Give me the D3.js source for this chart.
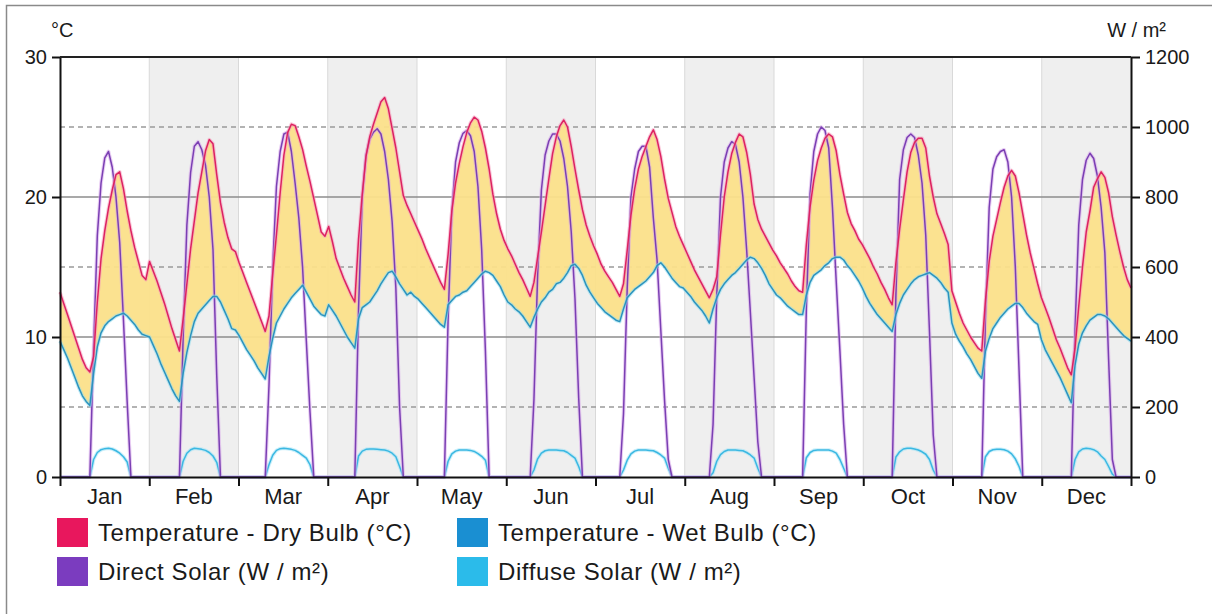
<!DOCTYPE html>
<html>
<head>
<meta charset="utf-8">
<script src="https://cdn.jsdelivr.net/npm/d3@7"></script>
<style>
  html, body { margin: 0; padding: 0; background: #fff; }
  svg { display: block; font-family: "Liberation Sans", Arial, sans-serif; }
</style>
</head>
<body>
<svg id="chart" width="1212" height="614"></svg>
<script>
// Average day per month: 24 hourly values for each month, Jan..Dec
const months = ["Jan", "Feb", "Mar", "Apr", "May", "Jun", "Jul", "Aug", "Sep", "Oct", "Nov", "Dec"];
const tempTicks = [0, 10, 20, 30];
const tempDashed = [5, 15, 25];
const solarTicks = [0, 200, 400, 600, 800, 1000, 1200];

// Temperature - Dry Bulb (°C)
const dryBulb = [
  [13.2,12.4,11.6,10.8,10.0,9.2,8.4,7.8,7.5,8.6,12.5,15.6,17.6,19.2,20.5,21.6,21.8,20.6,19.0,17.6,16.4,15.4,14.4,14.1],
  [15.4,14.7,14.0,13.2,12.4,11.5,10.6,9.8,9.0,11.3,13.8,16.3,18.3,20.3,21.8,23.3,24.1,23.8,21.6,19.6,18.2,17.1,16.3,16.1],
  [15.3,14.6,13.9,13.2,12.5,11.8,11.1,10.4,11.5,14.5,17.3,20.3,23.0,24.6,25.2,25.1,24.3,23.4,22.2,21.1,19.9,18.7,17.5,17.2],
  [17.9,16.8,15.6,14.9,14.2,13.6,13.0,12.5,17.0,20.2,22.9,24.3,25.2,26.0,26.8,27.1,26.3,24.9,23.5,21.8,20.1,19.4,18.8,18.2],
  [17.6,17.0,16.3,15.7,15.1,14.5,13.9,13.4,15.9,19.0,21.0,22.4,23.6,24.6,25.3,25.7,25.5,24.7,23.5,22.0,20.2,18.8,17.7,16.9],
  [16.3,15.8,15.2,14.6,14.1,13.5,12.9,13.9,15.7,17.5,19.4,21.3,23.1,24.3,25.1,25.5,25.0,23.6,22.0,20.5,19.1,18.0,17.2,16.5],
  [15.9,15.2,14.7,14.3,13.9,13.4,12.9,13.8,16.2,18.7,20.6,22.0,22.9,23.6,24.3,24.8,24.1,22.9,21.3,19.9,18.9,17.9,17.2,16.6],
  [16.0,15.4,14.8,14.3,13.8,13.3,12.8,13.4,14.3,17.3,20.0,21.8,23.1,23.9,24.5,24.3,23.2,21.6,19.5,18.4,17.7,17.2,16.7,16.2],
  [15.8,15.3,14.9,14.5,14.0,13.6,13.3,13.2,16.6,19.3,21.2,22.6,23.5,24.2,24.5,24.3,23.3,21.6,20.2,18.9,18.1,17.6,17.0,16.6],
  [16.1,15.6,15.0,14.5,13.9,13.4,12.8,12.3,15.3,17.7,19.8,21.8,23.2,23.9,24.2,24.2,23.5,21.5,20.0,18.8,18.1,17.4,16.6,13.3],
  [12.5,11.7,11.0,10.5,10.0,9.6,9.2,9.0,12.6,15.4,17.2,18.4,19.6,20.7,21.5,21.9,21.5,20.3,18.8,17.3,16.0,14.9,13.8,12.8],
  [12.1,11.4,10.6,9.8,9.2,8.5,7.8,7.3,9.2,12.2,15.0,17.5,19.0,20.7,21.3,21.8,21.4,20.3,18.6,17.3,16.1,15.0,14.1,13.5]
];

// Temperature - Wet Bulb (°C)
const wetBulb = [
  [9.7,9.1,8.5,7.8,7.1,6.4,5.8,5.4,5.1,7.4,9.3,10.3,10.8,11.1,11.3,11.5,11.6,11.7,11.5,11.2,10.9,10.5,10.2,10.1],
  [10.0,9.4,8.8,8.1,7.5,6.9,6.3,5.8,5.4,7.4,8.9,10.1,11.1,11.7,12.0,12.3,12.6,12.9,12.9,12.5,11.9,11.3,10.6,10.5],
  [10.1,9.6,9.1,8.7,8.3,7.8,7.4,7.0,8.6,9.9,11.0,11.5,12.0,12.4,12.8,13.1,13.4,13.7,13.2,12.7,12.2,11.9,11.6,11.5],
  [12.3,11.9,11.5,11.0,10.5,10.0,9.6,9.2,11.3,12.1,12.3,12.5,12.9,13.3,13.8,14.2,14.6,14.7,14.3,13.8,13.4,13.0,13.2,12.9],
  [12.7,12.4,12.1,11.8,11.5,11.2,10.9,10.7,12.3,12.6,12.9,13.0,13.2,13.3,13.6,13.9,14.2,14.5,14.7,14.6,14.4,14.0,13.6,13.0],
  [12.5,12.3,12.0,11.8,11.5,11.1,10.7,11.4,12.0,12.5,12.8,13.2,13.4,13.8,13.9,14.2,14.6,15.1,15.2,14.9,14.4,13.7,13.2,12.8],
  [12.4,12.1,11.8,11.6,11.4,11.2,11.1,12.0,12.8,13.1,13.4,13.6,13.8,14.0,14.3,14.6,15.1,15.3,15.0,14.6,14.2,13.9,13.6,13.5],
  [13.2,12.9,12.5,12.2,11.9,11.5,11.0,12.0,12.8,13.4,13.8,14.1,14.4,14.6,14.9,15.2,15.5,15.7,15.6,15.3,14.9,14.4,13.8,13.4],
  [13.0,12.8,12.5,12.2,12.0,11.8,11.6,11.6,13.0,13.9,14.4,14.6,14.8,15.1,15.3,15.6,15.7,15.7,15.5,15.1,14.8,14.4,14.0,13.5],
  [12.9,12.4,12.0,11.6,11.3,11.0,10.7,10.4,11.6,12.4,13.0,13.4,13.8,14.1,14.3,14.4,14.5,14.6,14.4,14.2,13.9,13.5,13.2,11.0],
  [10.2,9.7,9.3,8.8,8.4,7.9,7.4,7.05,9.0,9.9,10.6,11.0,11.4,11.7,12.0,12.2,12.4,12.4,12.1,11.7,11.4,11.1,10.9,9.8],
  [9.1,8.6,8.1,7.6,7.1,6.5,5.9,5.3,8.0,9.5,10.3,10.8,11.2,11.4,11.6,11.6,11.5,11.3,11.0,10.7,10.4,10.1,9.9,9.7]
];

// Direct Solar (W / m²)
const directSolar = [
  [0,0,0,0,0,0,0,0,0,370,690,840,912,930,885,800,670,450,215,0,0,0,0,0],
  [0,0,0,0,0,0,0,0,0,400,720,870,945,958,935,890,800,650,290,0,0,0,0,0],
  [0,0,0,0,0,0,0,0,260,600,830,930,980,985,930,840,740,600,390,185,0,0,0,0],
  [0,0,0,0,0,0,0,0,480,800,920,965,985,995,980,930,850,730,540,200,0,0,0,0],
  [0,0,0,0,0,0,0,0,450,760,900,955,982,990,975,930,830,650,360,0,0,0,0,0],
  [0,0,0,0,0,0,0,220,580,820,920,960,980,980,960,910,830,700,510,225,0,0,0,0],
  [0,0,0,0,0,0,0,180,540,800,880,930,945,945,885,740,620,420,220,50,0,0,0,0],
  [0,0,0,0,0,0,0,150,520,800,900,940,958,950,900,800,650,470,285,100,0,0,0,0],
  [0,0,0,0,0,0,0,0,480,810,930,980,1000,990,940,770,560,360,150,0,0,0,0,0],
  [0,0,0,0,0,0,0,0,520,850,935,970,980,970,920,840,690,415,120,0,0,0,0,0],
  [0,0,0,0,0,0,0,0,460,770,880,915,930,935,900,800,600,305,0,0,0,0,0,0],
  [0,0,0,0,0,0,0,0,420,720,850,905,925,910,860,770,640,337,50,0,0,0,0,0]
];

// Diffuse Solar (W / m²)
const diffuseSolar = [
  [0,0,0,0,0,0,0,0,0,50,70,78,81,82,80,75,68,58,43,0,0,0,0,0],
  [0,0,0,0,0,0,0,0,0,45,68,78,82,81,79,76,70,60,42,0,0,0,0,0],
  [0,0,0,0,0,0,0,0,35,62,76,81,82,81,79,76,70,62,54,35,0,0,0,0],
  [0,0,0,0,0,0,0,0,60,74,79,80,80,79,78,77,74,68,58,30,0,0,0,0],
  [0,0,0,0,0,0,0,0,45,66,74,77,77,77,76,73,67,59,48,0,0,0,0,0],
  [0,0,0,0,0,0,0,20,52,68,75,77,77,77,76,75,70,62,54,30,0,0,0,0],
  [0,0,0,0,0,0,0,20,48,66,74,77,77,77,76,75,70,63,54,25,0,0,0,0],
  [0,0,0,0,0,0,0,12,45,64,73,77,77,77,76,75,70,63,54,25,0,0,0,0],
  [0,0,0,0,0,0,0,0,55,70,76,77,77,77,77,74,68,50,25,0,0,0,0,0],
  [0,0,0,0,0,0,0,0,57,72,80,82,82,80,77,72,65,50,20,0,0,0,0,0],
  [0,0,0,0,0,0,0,0,58,73,78,79,79,78,74,66,52,30,0,0,0,0,0,0],
  [0,0,0,0,0,0,0,0,50,72,80,82,81,78,72,60,50,30,8,0,0,0,0,0]
];

const legendItems = [
  { label: "Temperature - Dry Bulb (°C)", color: "#e8175d" },
  { label: "Temperature - Wet Bulb (°C)", color: "#1a8fd2" },
  { label: "Direct Solar (W / m²)", color: "#7b3cbf" },
  { label: "Diffuse Solar (W / m²)", color: "#2bbbea" }
];

// ---- layout ----
const plot = { left: 60, right: 1131, top: 57, bottom: 477 };
const svg = d3.select("#chart");

const dry = dryBulb.flat();
const wet = wetBulb.flat();
const direct = directSolar.flat();
const diffuse = diffuseSolar.flat();
const n = dry.length;

const x = d3.scaleLinear().domain([0, n - 1]).range([plot.left, plot.right]);
const xMonth = d3.scaleLinear().domain([0, 12]).range([plot.left, plot.right]);
const xBand = d3.scaleBand().domain(months).range([plot.left, plot.right]);
const yT = d3.scaleLinear().domain([0, 30]).range([plot.bottom, plot.top]);
const yW = d3.scaleLinear().domain([0, 1200]).range([plot.bottom, plot.top]);

// outer frame
svg.append("rect")
  .attr("x", 6.5).attr("y", 5.5).attr("width", 1220).attr("height", 640)
  .attr("fill", "#fff").attr("stroke", "#8a8a8a").attr("stroke-width", 1.5);

// alternating month bands
svg.append("g").selectAll("rect").data(months).join("rect")
  .attr("x", (d, i) => xMonth(i)).attr("y", plot.top)
  .attr("width", xMonth(1) - xMonth(0)).attr("height", plot.bottom - plot.top)
  .attr("fill", (d, i) => i % 2 ? "#efefef" : "#ffffff");

// month separators
svg.append("g").selectAll("line").data(d3.range(1, 12)).join("line")
  .attr("x1", d => xMonth(d)).attr("x2", d => xMonth(d))
  .attr("y1", plot.top).attr("y2", plot.bottom)
  .attr("stroke", "#d9d9d9").attr("stroke-width", 1);

// horizontal grid
const grid = svg.append("g");
grid.selectAll("line.solid").data([10, 20]).join("line")
  .attr("class", "solid")
  .attr("x1", plot.left).attr("x2", plot.right)
  .attr("y1", d => yT(d)).attr("y2", d => yT(d))
  .attr("stroke", "#8c8c8c").attr("stroke-width", 1.6);
grid.selectAll("line.dash").data(tempDashed).join("line")
  .attr("class", "dash")
  .attr("x1", plot.left).attr("x2", plot.right)
  .attr("y1", d => yT(d)).attr("y2", d => yT(d))
  .attr("stroke", "#9a9a9a").attr("stroke-width", 1.5)
  .attr("stroke-dasharray", "5,4");

const idx = d3.range(n);

// band between wet bulb and dry bulb
svg.append("path")
  .datum(idx)
  .attr("fill", "#fbe08a")
  .attr("fill-opacity", 0.95)
  .attr("d", d3.area().x(i => x(i)).y0(i => yT(wet[i])).y1(i => yT(dry[i])));

function drawLine(values, yScale, halo, core) {
  const gen = d3.line().x(i => x(i)).y(i => yScale(values[i]));
  svg.append("path").datum(idx)
    .attr("fill", "none").attr("stroke", halo).attr("stroke-width", 3.6)
    .attr("stroke-opacity", 0.55).attr("stroke-linejoin", "round")
    .attr("d", gen);
  svg.append("path").datum(idx)
    .attr("fill", "none").attr("stroke", core).attr("stroke-width", 1.5)
    .attr("stroke-linejoin", "round")
    .attr("d", gen);
}

drawLine(diffuse, yW, "#9fe2f6", "#3bb8e2");
drawLine(direct, yW, "#d7a6ea", "#7a3fb3");
drawLine(wet, yT, "#8fdcef", "#2b93bf");
drawLine(dry, yT, "#f59abb", "#dc2262");

// axes
const axisStyle = g => {
  g.selectAll(".domain").attr("stroke", "#111").attr("stroke-width", 2);
  g.selectAll(".tick line").attr("stroke", "#111").attr("stroke-width", 2);
  g.selectAll(".tick text").attr("fill", "#1a1a1a").style("font-size", "20px")
    .style("font-family", "'Liberation Sans', Arial, sans-serif");
};

svg.append("g")
  .attr("transform", `translate(${plot.left},0)`)
  .call(d3.axisLeft(yT).tickValues(tempTicks).tickFormat(d3.format("d"))
    .tickSize(8).tickSizeOuter(0).tickPadding(5))
  .call(axisStyle);

svg.append("g")
  .attr("transform", `translate(${plot.right},0)`)
  .call(d3.axisRight(yW).tickValues(solarTicks).tickFormat(d3.format("d"))
    .tickSize(9).tickSizeOuter(0).tickPadding(5))
  .call(axisStyle);

// month boundary ticks
svg.append("g")
  .attr("transform", `translate(0,${plot.bottom})`)
  .call(d3.axisBottom(xMonth).tickValues(d3.range(13)).tickFormat("").tickSize(9).tickSizeOuter(0))
  .call(axisStyle);

// month labels
svg.append("g")
  .attr("transform", `translate(0,${plot.bottom})`)
  .call(d3.axisBottom(xBand).tickSize(0).tickPadding(11))
  .call(g => g.select(".domain").remove())
  .call(g => g.selectAll(".tick text").attr("fill", "#1a1a1a").style("font-size", "22px")
    .style("font-family", "'Liberation Sans', Arial, sans-serif"));

// top frame line
svg.append("line")
  .attr("x1", plot.left).attr("x2", plot.right)
  .attr("y1", plot.top).attr("y2", plot.top)
  .attr("stroke", "#222").attr("stroke-width", 2);

// unit labels
svg.append("text").attr("x", 51).attr("y", 37)
  .attr("fill", "#1a1a1a").style("font-size", "20px").text("°C");
svg.append("text").attr("x", 1166).attr("y", 37).attr("text-anchor", "end")
  .attr("fill", "#1a1a1a").style("font-size", "20px").text("W / m²");

// legend
const legend = svg.append("g");
const legendPos = [
  { x: 57, y: 518 }, { x: 457, y: 518 },
  { x: 57, y: 557 }, { x: 457, y: 557 }
];
legendItems.forEach((d, i) => {
  const p = legendPos[i];
  legend.append("rect").attr("x", p.x).attr("y", p.y)
    .attr("width", 31).attr("height", 29).attr("fill", d.color);
  legend.append("text").attr("x", p.x + 41).attr("y", p.y + 23)
    .attr("fill", "#1a1a1a").style("font-size", "24px").style("letter-spacing", "0.6px")
    .text(d.label);
});
</script>
</body>
</html>
